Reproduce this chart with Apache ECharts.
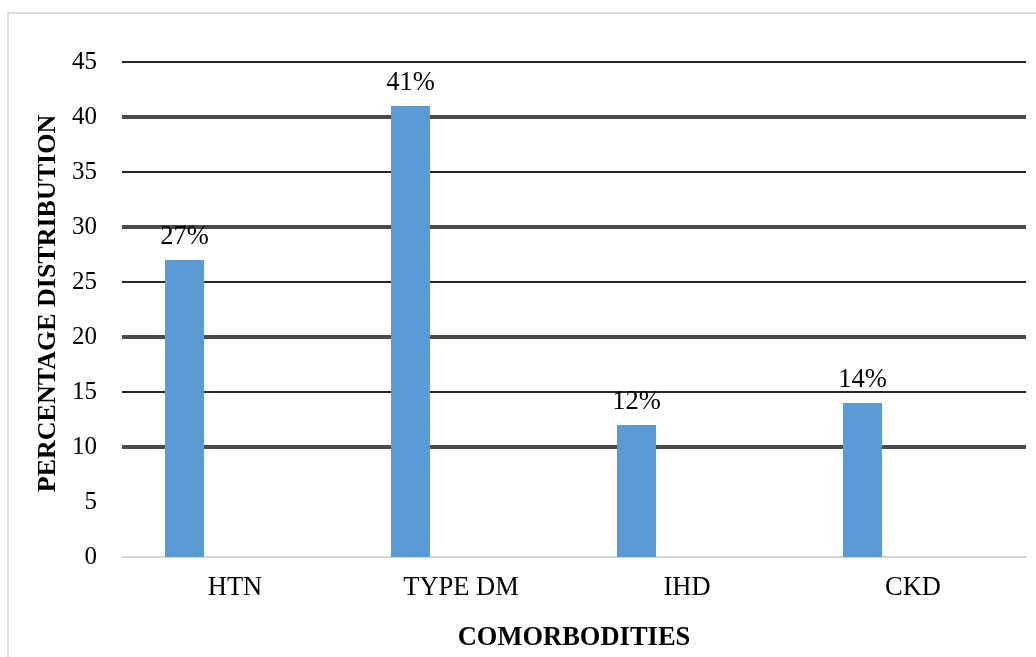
<!DOCTYPE html>
<html>
<head>
<meta charset="utf-8">
<script src="https://cdn.jsdelivr.net/npm/echarts@6/dist/echarts.min.js"></script>
<style>
  html, body { margin: 0; padding: 0; background: #fff; overflow: hidden; }
  #chart { width: 1036px; height: 657px; }
</style>
</head>
<body>
<div id="chart"></div>
<script>
// data
var categories = ["HTN", "TYPE DM", "IHD", "CKD"];
var percentValues = [27, 41, 12, 14];
var emptySeries = ["-", "-", "-", "-"];
var yTicks = { min: 0, max: 45, step: 5 };
// gridlines: thick ones every 10, thin ones in between (none at 5)
var thickLines = [10, 20, 30, 40];
var thinLines = [15, 25, 35, 45];

var serif = "Liberation Serif";

function lines(vals, w, col) {
	var out = [];
	for (var i = 0; i < vals.length; i++) {
		out.push({ yAxis: vals[i], lineStyle: { width: w, color: col, type: "solid" } });
	}
	return out;
}

var chart = echarts.init(document.getElementById("chart"), null, { renderer: "canvas" });

var option = {
	animation: false,
	backgroundColor: "#fff",
	graphic: [{
		type: "rect",
		shape: { x: 8, y: 13, width: 1040, height: 660 },
		style: { fill: "none", stroke: "#dcdcdc", lineWidth: 2 },
		silent: true
	}],
	grid: { left: 122, right: 10, top: 62, bottom: 92, containLabel: false },
	xAxis: {
		type: "category",
		data: categories,
		axisLine: { show: true, lineStyle: { color: "#d4d4d4", width: 2 } },
		axisTick: { show: false },
		axisLabel: { color: "#000", fontFamily: serif, fontSize: 26.5, margin: 18 },
		name: "COMORBODITIES",
		nameLocation: "middle",
		nameGap: 68,
		nameTextStyle: { color: "#000", fontFamily: serif, fontSize: 26.5, fontWeight: "bold" }
	},
	yAxis: {
		type: "value",
		min: yTicks.min,
		max: yTicks.max,
		interval: yTicks.step,
		axisLine: { show: false },
		axisTick: { show: false },
		splitLine: { show: false },
		axisLabel: { color: "#000", fontFamily: serif, fontSize: 25, margin: 25 },
		name: "PERCENTAGE DISTRIBUTION",
		nameLocation: "middle",
		nameRotate: 90,
		nameGap: 60,
		nameTextStyle: { color: "#000", fontFamily: serif, fontSize: 26, fontWeight: "bold", padding: [0, 0, 0, 12] }
	},
	series: [{
		type: "bar",
		data: percentValues,
		barWidth: 39,
		barGap: "159%",
		itemStyle: { color: "#5b9bd5" },
		label: {
			show: true,
			position: "top",
			distance: 9,
			formatter: "{c}%",
			color: "#000",
			fontFamily: serif,
			fontSize: 26.5
		},
		markLine: {
			silent: true,
			symbol: ["none", "none"],
			label: { show: false },
			z: 1,
			data: lines(thickLines, 4, "#4a4a4a").concat(lines(thinLines, 2, "#262626"))
		},
		z: 3
	}, {
		type: "bar",
		data: emptySeries,
		barWidth: 39,
		itemStyle: { color: "#ed7d31" }
	}]
};

chart.setOption(option);
</script>
</body>
</html>
